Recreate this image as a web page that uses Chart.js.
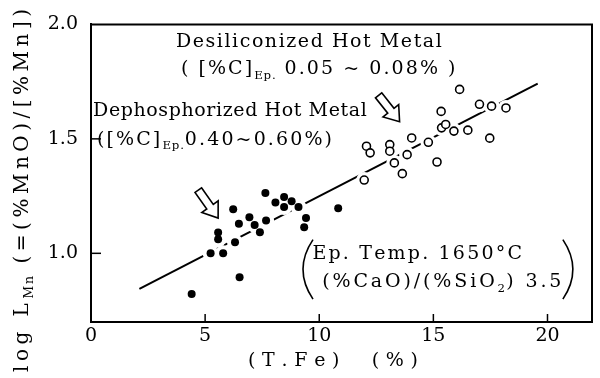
<!DOCTYPE html>
<html>
<head>
<meta charset="utf-8">
<script src="https://cdn.jsdelivr.net/npm/chart.js@4.4.0/dist/chart.umd.min.js"></script>
<style>
  html, body { margin: 0; padding: 0; background: #fff; }
  canvas { display: block; }
</style>
</head>
<body>
<canvas id="chart" width="600" height="378"></canvas>
<script>
// values
const xTicks = [0, 5, 10, 15, 20]
const yTicks = [1.0, 1.5, 2.0]

// dephosphorized hot metal (filled dots)
const dephosX = [4.41, 5.24, 5.57, 5.57, 5.79, 6.23, 6.31, 6.48, 6.51, 6.94, 7.17, 7.40, 7.67, 7.64, 8.08, 8.46, 8.46, 8.79, 9.09, 9.42, 9.34, 10.83]
const dephosY = [0.822, 1.0, 1.091, 1.061, 1.0, 1.193, 1.048, 1.129, 0.895, 1.158, 1.124, 1.092, 1.143, 1.263, 1.222, 1.246, 1.202, 1.227, 1.202, 1.154, 1.114, 1.197]

// desiliconized hot metal (open circles)
const desilX = [11.97, 12.07, 12.23, 13.09, 13.09, 13.29, 13.64, 13.85, 14.05, 14.78, 15.16, 15.34, 15.36, 15.54, 15.90, 16.15, 16.51, 17.02, 17.47, 17.55, 18.18]
const desilY = [1.32, 1.468, 1.439, 1.475, 1.446, 1.395, 1.348, 1.431, 1.504, 1.485, 1.399, 1.62, 1.548, 1.563, 1.534, 1.716, 1.538, 1.651, 1.503, 1.643, 1.635]

// regression line end points
const fitX = [2.12, 19.57]
const fitY = [0.845, 1.741]

const FONT = '"DejaVu Serif", "Liberation Serif", serif'

function pts(xs, ys) {
  return xs.map((x, i) => ({ x: x, y: ys[i] }))
}

// natural width and spacing weight of a run of segments
function measureRich(ctx, segs, size) {
  let w = 0, n = 0
  segs.forEach(s => {
    ctx.font = (s.sub ? size * 0.62 : size) + 'px ' + FONT
    for (const ch of s.t) {
      w += ctx.measureText(ch).width
      n += s.sub ? 0.4 : 1
    }
  })
  return { w, n }
}

// draws segments char by char, stretched to fill x0..x1
function drawRich(ctx, x0, x1, y, segs, size) {
  const m = measureRich(ctx, segs, size)
  const sp = Math.max(0, (x1 - x0 - m.w) / Math.max(1, m.n - 1))
  let cx = x0
  ctx.textBaseline = 'middle'
  ctx.textAlign = 'left'
  segs.forEach(s => {
    ctx.font = (s.sub ? size * 0.62 : size) + 'px ' + FONT
    const dy = s.sub ? size * 0.32 : 0
    for (const ch of s.t) {
      ctx.fillText(ch, cx, y + dy)
      cx += ctx.measureText(ch).width + sp * (s.sub ? 0.4 : 1)
    }
  })
}

function hollowArrow(ctx, x0, y0, x1, y1) {
  const L = Math.hypot(x1 - x0, y1 - y0)
  const a = Math.atan2(y1 - y0, x1 - x0)
  const hl = 14, w = 4, hw = 10
  ctx.save()
  ctx.translate(x0, y0)
  ctx.rotate(a)
  ctx.beginPath()
  ctx.moveTo(0, -w)
  ctx.lineTo(L - hl, -w)
  ctx.lineTo(L - hl, -hw)
  ctx.lineTo(L, 0)
  ctx.lineTo(L - hl, hw)
  ctx.lineTo(L - hl, w)
  ctx.lineTo(0, w)
  ctx.closePath()
  ctx.fillStyle = '#fff'
  ctx.fill()
  ctx.lineWidth = 1.6
  ctx.strokeStyle = '#000'
  ctx.stroke()
  ctx.restore()
}

const decor = {
  id: 'decor',
  afterDraw(chart) {
    const ctx = chart.ctx
    const xs = chart.scales.x, ys = chart.scales.y
    const area = chart.chartArea
    const X = v => xs.getPixelForValue(v)
    const Y = v => ys.getPixelForValue(v)
    ctx.save()
    ctx.strokeStyle = '#000'
    ctx.fillStyle = '#000'

    // top and right of the frame
    ctx.lineWidth = 2
    ctx.beginPath()
    ctx.moveTo(area.left, area.top)
    ctx.lineTo(area.right, area.top)
    ctx.lineTo(area.right, area.bottom)
    ctx.stroke()

    // inward ticks
    ctx.lineWidth = 1.5
    xTicks.forEach(v => {
      if (v === 0) return
      ctx.beginPath()
      ctx.moveTo(X(v), area.bottom)
      ctx.lineTo(X(v), area.bottom - 8)
      ctx.stroke()
    })
    yTicks.forEach(v => {
      if (v === 2.0) return
      ctx.beginPath()
      ctx.moveTo(area.left, Y(v))
      ctx.lineTo(area.left + 10, Y(v))
      ctx.stroke()
    })

    // axis titles
    drawRich(ctx, 248, 418, 361, [{ t: '(T.Fe)  (%)' }], 19)

    ctx.save()
    ctx.translate(23, 0)
    ctx.rotate(-Math.PI / 2)
    drawRich(ctx, -372, -9, 0, [
      { t: 'log L' }, { t: 'Mn', sub: true }, { t: ' (=(%MnO)/[%Mn])' }
    ], 20)
    ctx.restore()

    // annotations
    drawRich(ctx, X(3.72), X(15.37), Y(1.925), [{ t: 'Desiliconized Hot Metal' }], 19)
    drawRich(ctx, X(3.94), X(15.97), Y(1.803), [
      { t: '( [%C]' }, { t: 'Ep.', sub: true }, { t: ' 0.05 ~ 0.08% )' }
    ], 19)
    drawRich(ctx, X(0.09), X(12.08), Y(1.62), [{ t: 'Dephosphorized Hot Metal' }], 19)
    drawRich(ctx, X(0.26), X(10.56), Y(1.496), [
      { t: '([%C]' }, { t: 'Ep.', sub: true }, { t: '0.40~0.60%)' }
    ], 19)
    drawRich(ctx, X(9.7), X(18.88), Y(0.996), [{ t: 'Ep. Temp. 1650°C' }], 19)
    drawRich(ctx, X(10.13), X(20.61), Y(0.873), [
      { t: '(%CaO)/(%SiO' }, { t: '2', sub: true }, { t: ') 3.5' }
    ], 19)

    // big parentheses round the condition block
    ctx.lineWidth = 1.6
    const pt = Y(1.06), pb = Y(0.80), pm = (pt + pb) / 2
    const pl = X(9.2), pr = X(21.2)
    ctx.beginPath()
    ctx.moveTo(pl + 12, pt)
    ctx.quadraticCurveTo(pl - 8, pm, pl + 12, pb)
    ctx.stroke()
    ctx.beginPath()
    ctx.moveTo(pr - 12, pt)
    ctx.quadraticCurveTo(pr + 8, pm, pr - 12, pb)
    ctx.stroke()

    // arrows
    hollowArrow(ctx, X(12.6), Y(1.69), X(13.52), Y(1.575))
    hollowArrow(ctx, X(4.7), Y(1.276), X(5.57), Y(1.154))

    ctx.restore()
  }
}

// white rings under the marks break the fitted line near each point, as in the print
const halo = {
  backgroundColor: '#fff',
  borderWidth: 0,
  pointRadius: 8,
  order: 3
}

new Chart(document.getElementById('chart'), {
  type: 'scatter',
  data: {
    datasets: [
      {
        label: 'fit',
        type: 'line',
        data: pts(fitX, fitY),
        borderColor: '#000',
        borderWidth: 2,
        pointRadius: 0,
        fill: false,
        order: 4
      },
      Object.assign({ label: 'halo1', data: pts(dephosX, dephosY) }, halo),
      Object.assign({ label: 'halo2', data: pts(desilX, desilY) }, halo),
      {
        label: 'Dephosphorized Hot Metal',
        data: pts(dephosX, dephosY),
        backgroundColor: '#000',
        borderColor: '#000',
        pointRadius: 4,
        borderWidth: 0,
        order: 1
      },
      {
        label: 'Desiliconized Hot Metal',
        data: pts(desilX, desilY),
        backgroundColor: '#fff',
        borderColor: '#000',
        pointRadius: 4,
        borderWidth: 1.6,
        order: 2
      }
    ]
  },
  plugins: [decor],
  options: {
    responsive: false,
    animation: false,
    layout: { padding: { top: 24, right: 2, left: 0, bottom: 0 } },
    plugins: { legend: { display: false }, tooltip: { enabled: false } },
    scales: {
      x: {
        type: 'linear',
        min: 0,
        max: 21.95,
        afterBuildTicks: s => { s.ticks = xTicks.map(v => ({ value: v })) },
        afterFit: s => { s.height = 56 },
        grid: { display: false, drawTicks: false },
        border: { display: true, color: '#000', width: 2 },
        ticks: {
          color: '#000',
          padding: 3,
          maxRotation: 0,
          font: { family: FONT, size: 19 }
        }
      },
      y: {
        min: 0.7,
        max: 2.0,
        afterBuildTicks: s => { s.ticks = yTicks.map(v => ({ value: v })) },
        afterFit: s => { s.width = 91 },
        grid: { display: false, drawTicks: false },
        border: { display: true, color: '#000', width: 2 },
        ticks: {
          color: '#000',
          padding: 13,
          font: { family: FONT, size: 19 },
          callback: v => v.toFixed(1)
        }
      }
    }
  }
})
</script>
</body>
</html>
